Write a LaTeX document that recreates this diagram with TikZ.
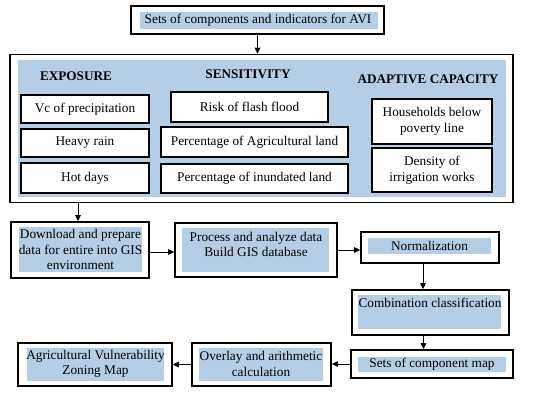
\documentclass[tikz,border=0pt]{standalone}
\usepackage{fontspec}
\setmainfont{Liberation Serif}
\usetikzlibrary{arrows.meta}
\definecolor{boxblue}{RGB}{181,205,229}
\tikzset{
  frame/.style={draw=black, line width=1.6pt, fill=white, inner sep=0pt},
  shade/.style={fill=boxblue, draw=none, inner sep=0pt},
  txt/.style={font=\fontsize{13.3}{15.5}\selectfont, align=center, inner sep=0pt},
  head/.style={font=\fontsize{13.2}{15}\selectfont\bfseries, inner sep=0pt},
  arr/.style={-{Triangle[length=6pt,width=5.5pt]}, line width=0.9pt},
}
% name, frame center, w, h, blue center, w, h, text center, text
\newcommand{\flowbox}[9]{%
  \node[frame, minimum width=#3pt, minimum height=#4pt] (#1) at (#2) {};
  \node[shade, minimum width=#6pt, minimum height=#7pt] (#1-b) at (#5) {};
  \node[txt] (#1-t) at (#8) {#9};
}
\newcommand{\plainbox}[5]{%
  \node[frame, minimum width=#3pt, minimum height=#4pt] (#1) at (#2) {};
  \node[txt] (#1-t) at (#2) {#5};
}
\begin{document}
\begin{tikzpicture}[x=1pt,y=-1pt]
\useasboundingbox[fill=white] (0,0) rectangle (550,392);

% top box
\flowbox{top}{257.5,20}{253}{28}{259,20.5}{238}{17}{258,20.5}{Sets of components and indicators for AVI}

% big box
\node[frame, minimum width=503pt, minimum height=148pt] (big) at (261.5,128.5) {};
\node[shade, minimum width=488pt, minimum height=137pt] (big-b) at (262,128.5) {};

\node[head] (hexp) at (76,76) {EXPOSURE};
\node[head] (hsen) at (248,74) {SENSITIVITY};
\node[head] (hada) at (428,79) {ADAPTIVE CAPACITY};

\plainbox{e1}{85,109}{128}{28}{Vc of precipitation}
\plainbox{e2}{85,143}{128}{28}{Heavy rain}
\plainbox{e3}{85,178}{128}{30}{Hot days}

\plainbox{s1}{249.5,107}{157}{30}{Risk of flash flood}
\plainbox{s2}{254.5,142}{187}{30}{Percentage of Agricultural land}
\plainbox{s3}{254.5,178.5}{187}{29}{Percentage of inundated land}

\plainbox{a1}{432,121.5}{120}{45}{Households below\\poverty line}
\plainbox{a2}{432,170}{120}{44}{Density of\\irrigation works}

% process chain
\flowbox{dl}{80,250}{138}{56}{80.5,249.5}{123}{45}{80.5,249.5}{Download and prepare\\data for entire into GIS\\environment}
\flowbox{pr}{256,250}{162}{54}{255.5,250}{147}{44}{256,244.5}{Process and analyze data\\Build GIS database}
\flowbox{nm}{430,247.5}{138}{31}{429.5,246}{123}{16}{429.5,246}{Normalization}
\flowbox{cb}{430.5,312.5}{157}{45}{429.5,312}{143}{34}{430,303}{Combination classification}
\flowbox{mp}{432,364}{162}{28}{432,364.5}{148}{15}{432,364.5}{Sets of component map}
\flowbox{ov}{261.5,364.5}{139}{43}{261,364.5}{124}{33}{261,364}{Overlay and arithmetic\\calculation}
\flowbox{ag}{95,364.5}{154}{43}{95.5,364.5}{137}{33}{95.5,364}{Agricultural Vulnerability\\Zoning Map}

% connectors
\draw[arr] (top.south) -- (top.south |- big.north);
\draw[arr] ([xshift=-2pt]dl.north |- big.south) -- ([xshift=-2pt]dl.north);
\draw[arr] ([yshift=-2pt]dl.east) -- ([yshift=-2pt]dl.east -| pr.west);
\draw[arr] (pr.east) -- (pr.east -| nm.west);
\draw[arr] ([xshift=-7pt]nm.south) -- ([xshift=-7pt]nm.south |- cb.north);
\draw[arr] ([xshift=-7pt]cb.south) -- ([xshift=-7pt]cb.south |- mp.north);
\draw[arr] (mp.west) -- (mp.west -| ov.east);
\draw[arr] (ov.west) -- (ov.west -| ag.east);
\end{tikzpicture}
\end{document}
